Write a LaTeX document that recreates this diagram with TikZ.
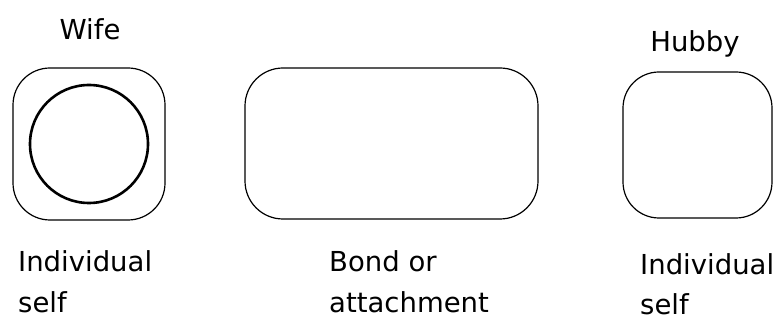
\documentclass[tikz,border=0pt]{standalone}
\usepackage{fontspec}
\setmainfont{DejaVu Sans}
\usepackage{tikz}
\usetikzlibrary{positioning}

\begin{document}
\begin{tikzpicture}[
  x=1pt, y=-1pt,
  self/.style={draw, line width=1.2pt, rounded corners=37pt,
               minimum width=152pt, minimum height=152pt, inner sep=0pt},
  bond/.style={draw, line width=1.2pt, rounded corners=38pt,
               minimum width=293pt, minimum height=151pt, inner sep=0pt},
  core/.style={draw, circle, line width=2.6pt,
               minimum size=118pt, inner sep=0pt},
  lbl/.style={font=\fontsize{27.5}{40}\selectfont,
              inner sep=0pt, align=left},
]
\useasboundingbox (0,0) rectangle (784,320);

% ---- names on top ----
\node[lbl, anchor=base] (wifeName)  at (90,40)  {Wife};
\node[lbl, anchor=base] (hubbyName) at (695,52) {Hubby};

% ---- wife: self with a circle inside ----
\node[self] (wifeBox)  at (89,144) {};
\node[core] (wifeCore) at (wifeBox.center) {};

% ---- the bond between them ----
\node[bond] (bondBox) at (391.5,143.5) {};

% ---- hubby ----
\node[self, minimum width=149pt, minimum height=146pt, rounded corners=36pt]
  (hubbyBox) at (697.5,145) {};

% ---- captions (base = last line) ----
\node[lbl, anchor=base west] (wifeCap)  at (18,312)  {Individual\\self};
\node[lbl, anchor=base west] (bondCap)  at (329,312) {Bond or\\attachment};
\node[lbl, anchor=base west] (hubbyCap) at (640,314) {Individual\\self};

\end{tikzpicture}
\end{document}
